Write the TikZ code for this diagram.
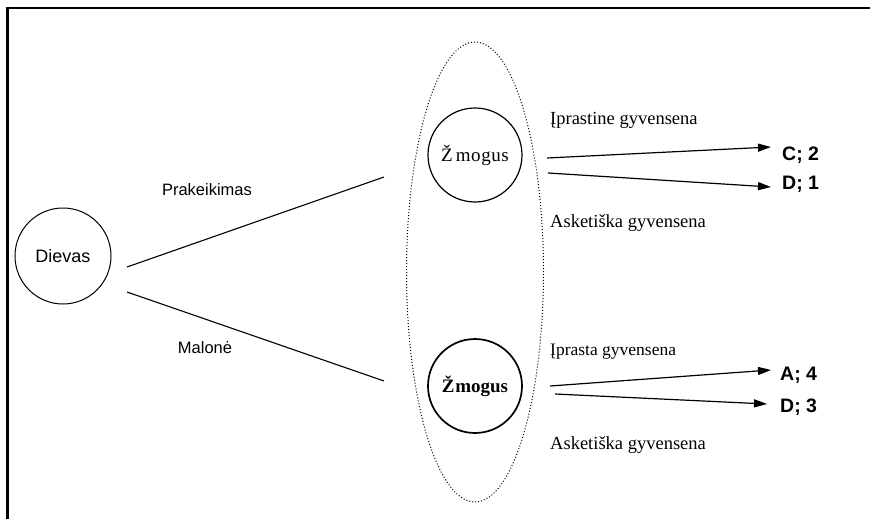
\documentclass[tikz,border=0pt]{standalone}
\usepackage{fontspec}
\setmainfont{Liberation Serif}
\newfontfamily\arial{Liberation Sans}
\usetikzlibrary{arrows.meta,shapes.geometric}
\begin{document}
\begin{tikzpicture}[x=1pt,y=-1pt,
  circ/.style={draw,circle,line width=1.2pt,inner sep=0pt,minimum size=94pt},
  conn/.style={line width=1.1pt},
  arr/.style={line width=1.2pt,-{Triangle[length=13pt,width=8pt]}},
  res/.style={anchor=west,inner sep=0pt,font=\arial\bfseries\fontsize{19.5}{22}\selectfont},
  life/.style={anchor=west,inner sep=0pt,font=\fontsize{18.5}{22}\selectfont},
  lbl/.style={inner sep=0pt,font=\arial\fontsize{16.5}{20}\selectfont}]
\useasboundingbox (0,0) rectangle (870,519);
\fill[white] (0,0) rectangle (870,519);
\draw[line width=2.6pt] (7.5,522) -- (7.5,8) -- (873,8);
% ellipse
\node (ell) [draw,dotted,line width=1pt,ellipse,inner sep=0pt,minimum width=137pt,minimum height=460pt] at (475,272) {};
% nodes
\node (dievas) [circ,line width=1pt,minimum size=96pt] at (63,256) {\arial\fontsize{18}{20}\selectfont Dievas};
\node (zm1) [circ] at (475,155) {\fontsize{19}{22}\selectfont Ž\hspace{3pt}m\hspace{0.6pt}o\hspace{0.6pt}g\hspace{0.6pt}u\hspace{0.6pt}s};
\node (zm2) [circ,line width=1.7pt] at (475,386) {\bfseries\fontsize{19}{22}\selectfont Ž\hspace{0.8pt}mogus};
% Dievas connectors
\coordinate (d1) at (127,267);
\coordinate (d2) at (127,292);
\coordinate (e1) at (384,177);
\coordinate (e2) at (384,381);
\draw[conn] (d1) -- (e1);
\draw[conn] (d2) -- (e2);
\node[lbl] (prak) at (207,190) {Prakeikimas};
\node[lbl] (mal) at (205,348) {Malonė};
% arrows
\coordinate (a1s) at (547,158);
\coordinate (a2s) at (548,173);
\coordinate (a3s) at (550,386);
\coordinate (a4s) at (555,394);
\node[res] (c2) at (782,155) {C; 2};
\node[res] (d1l) at (782,184) {D; 1};
\node[res] (a4) at (780,375) {A; 4};
\node[res] (d3) at (780,407) {D; 3};
\coordinate (a1e) at (771,147);
\coordinate (a2e) at (771,187);
\coordinate (a3e) at (771,370);
\coordinate (a4e) at (767,404);
\draw[arr] (a1s) -- (a1e);
\draw[arr] (a2s) -- (a2e);
\draw[arr] (a3s) -- (a3e);
\draw[arr] (a4s) -- (a4e);
\node[life] (l1) at (550,120) {Įprastine gyvensena};
\node[life] (l2) at (550,223) {Asketiška gyvensena};
\node[life,font=\fontsize{17.5}{20}\selectfont] (l3) at (550,352) {Įprasta gyvensena};
\node[life] (l4) at (550,445) {Asketiška gyvensena};
\end{tikzpicture}
\end{document}
